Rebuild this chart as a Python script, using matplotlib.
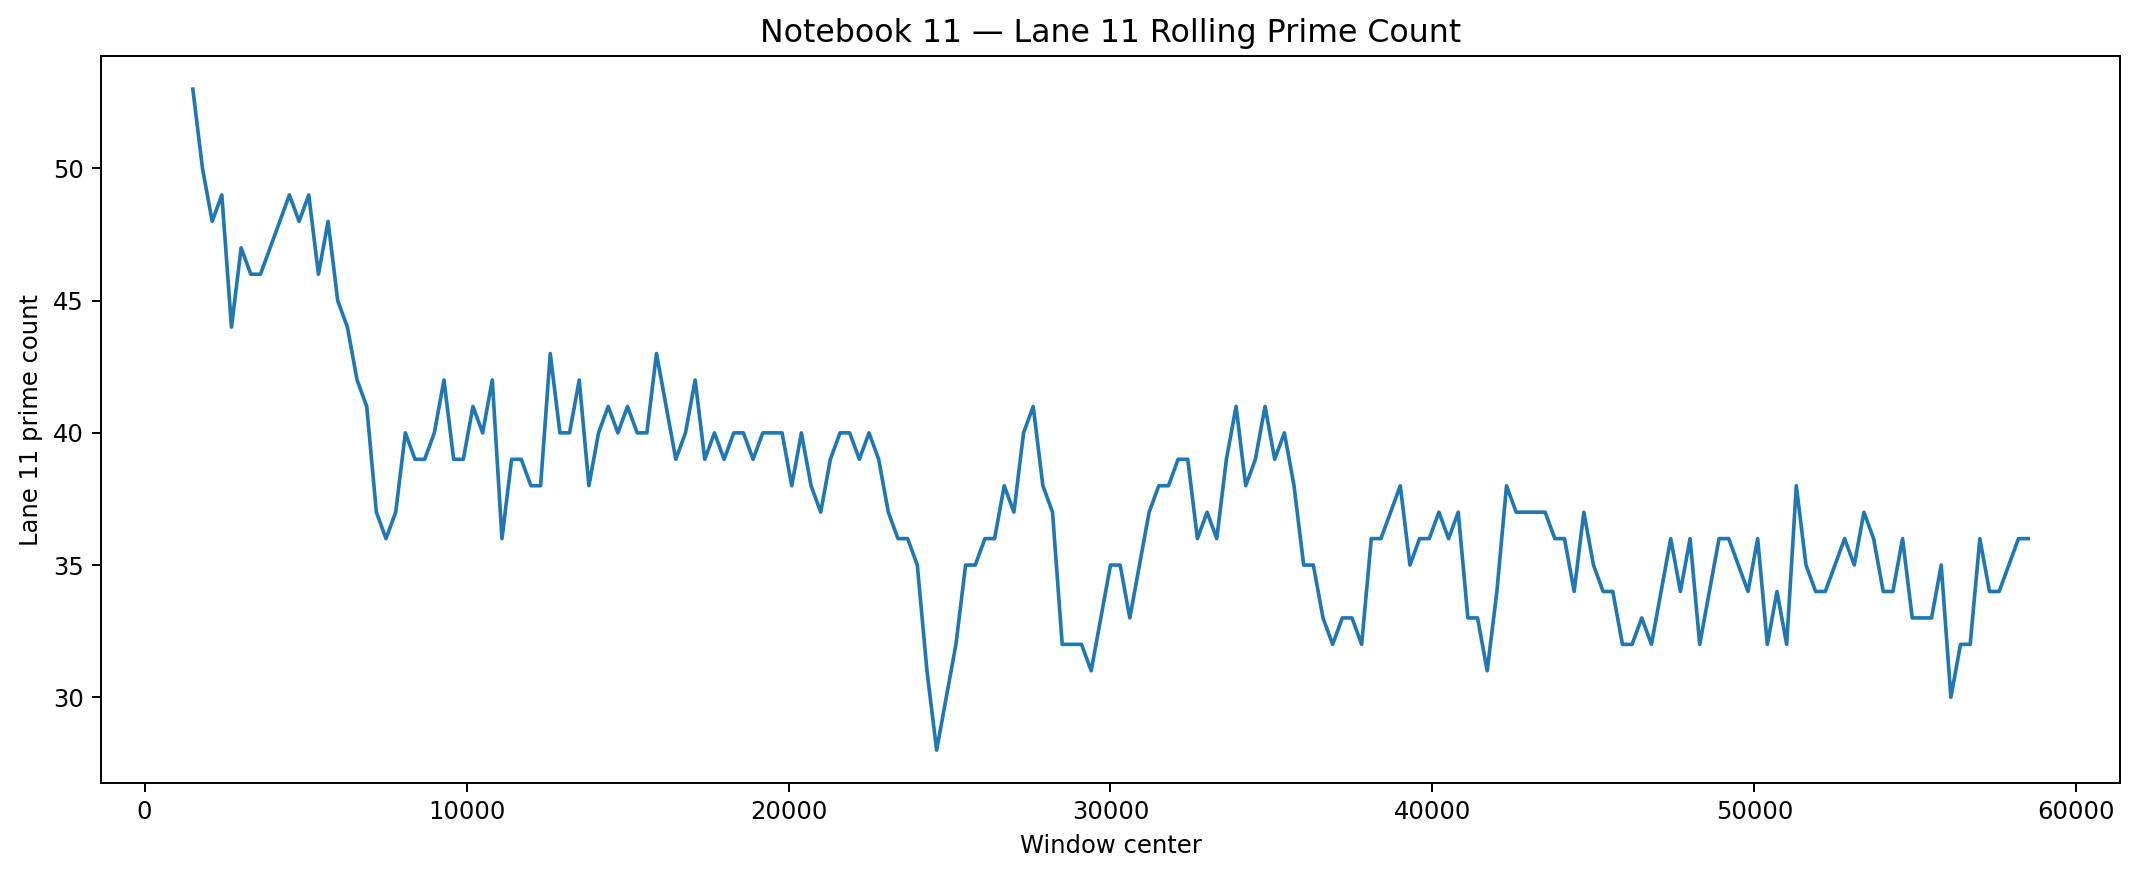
import numpy as np
import matplotlib
matplotlib.use("Agg")
import matplotlib.pyplot as plt

# window centers: 1500 .. 58500 every 300
centers = np.arange(1500, 58501, 300)
counts = [
    53, 50, 48, 49, 44, 47, 46, 46, 47, 48, 49, 48, 49, 46, 48, 45, 44, 42, 41,
    37, 36, 37, 40, 39, 39, 40,
    42, 39, 39, 41, 40, 42, 36, 39, 39, 38, 38, 43, 40, 40, 42, 38, 40, 41, 40, 41, 40, 40, 43, 41,
    39, 40, 42, 39, 40, 39, 40, 40, 39, 40, 40, 40, 38, 40, 38, 37, 39, 40, 40, 39, 40, 39, 37, 36, 36, 35,
    31, 28, 30, 32, 35, 35, 36, 36, 38, 37, 40, 41, 38, 37, 32, 32, 32, 31, 33, 35, 35, 33, 35, 37, 38,
    38, 39, 39, 36, 37, 36, 39, 41, 38, 39, 41, 39, 40, 38, 35, 35, 33, 32, 33, 33, 32, 36, 36, 37, 38,
    35, 36, 36, 37, 36, 37, 33, 33, 31, 34, 38, 37, 37, 37, 37, 36, 36, 34, 37, 35, 34, 34, 32, 32, 33,
    32, 34, 36, 34, 36, 32, 34, 36, 36, 35, 34, 36, 32, 34, 32, 38, 35, 34, 34, 35, 36, 35, 37, 36, 34,
    34, 36, 33, 33, 33, 35, 30, 32, 32, 36, 34, 34, 35, 36, 36,
]
assert len(counts) == len(centers)

DPI = 175
fig, ax = plt.subplots(figsize=(2137 / DPI, 877 / DPI), dpi=DPI)
fig.subplots_adjust(left=0.0473, right=0.992, top=0.936, bottom=0.107)
ax.plot(centers, counts, color="#1f77b4", lw=1.5)
ax.set_title("Notebook 11 — Lane 11 Rolling Prime Count", fontsize=13)
ax.set_xlabel("Window center")
ax.set_ylabel("Lane 11 prime count")
fig.savefig("out.png", dpi=DPI)
